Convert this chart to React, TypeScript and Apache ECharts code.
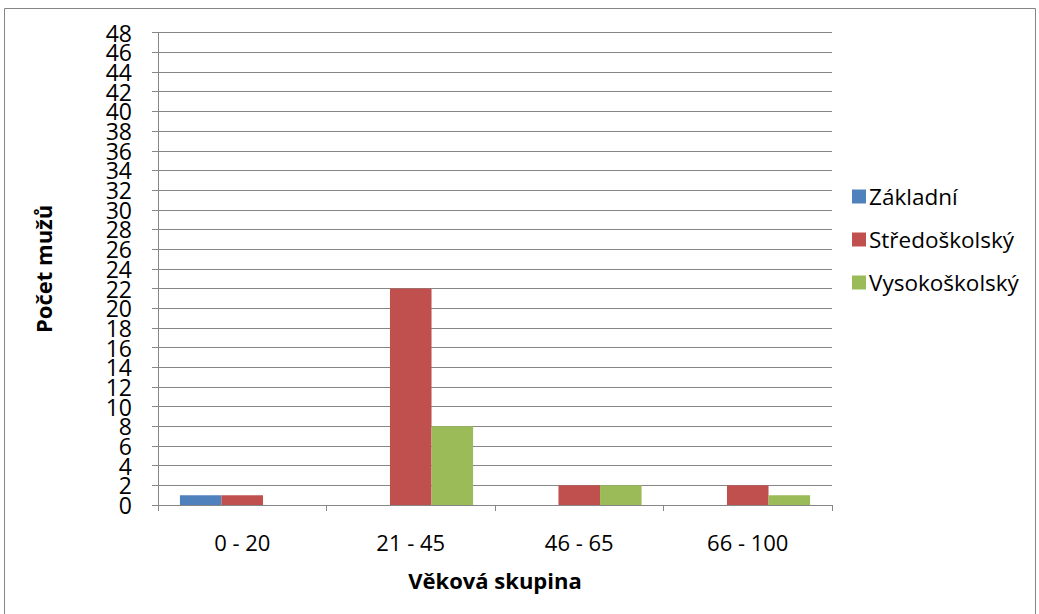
import React, { useEffect, useRef } from "react";
import * as echarts from "echarts";

const categories = ["0 - 20", "21 - 45", "46 - 65", "66 - 100"];
const zakladni = [1, 0, 0, 0];
const stredoskolsky = [1, 22, 2, 2];
const vysokoskolsky = [0, 8, 2, 1];
const seriesNames = ["Základní", "Středoškolský", "Vysokoškolský"];
const colors = ["#4F81BD", "#C0504D", "#9BBB59"];
const yTickLabels = [
  "0", "2", "4", "6", "8", "10", "12", "14", "16", "18", "20", "22", "24",
  "26", "28", "30", "32", "34", "36", "38", "40", "42", "44", "46", "48",
];

const FONT = "'Open Sans', 'Noto Sans', sans-serif";

export default function App() {
  const ref = useRef<HTMLDivElement>(null);
  useEffect(() => {
    if (!ref.current) return;
    const chart = echarts.init(ref.current, null, { renderer: "svg" });
    const dataSets = [zakladni, stredoskolsky, vysokoskolsky];
    chart.setOption({
      animation: false,
      backgroundColor: "#ffffff",
      textStyle: { fontFamily: FONT },
      graphic: [
        {
          type: "rect",
          shape: { x: 4.5, y: 8.5, width: 1031, height: 620 },
          style: { fill: "none", stroke: "#868686", lineWidth: 1 },
          silent: true,
        },
      ],
      grid: { left: 158, right: 207, top: 32.7, bottom: 109, containLabel: false },
      legend: {
        orient: "vertical",
        left: 847,
        top: 180,
        itemWidth: 14,
        itemHeight: 14,
        itemGap: 20,
        icon: "rect",
        textStyle: { fontSize: 22.5, color: "#000", fontFamily: FONT, padding: [0, 0, 0, -2] },
        data: seriesNames,
      },
      xAxis: {
        type: "category",
        data: categories,
        name: "Věková skupina",
        nameLocation: "middle",
        nameGap: 64,
        nameTextStyle: { fontSize: 22, fontWeight: "bold", color: "#000", fontFamily: FONT },
        axisLine: { lineStyle: { color: "#868686", width: 1 } },
        axisTick: { show: true, length: 6, lineStyle: { color: "#868686" }, alignWithLabel: false },
        axisLabel: { fontSize: 22, color: "#000", margin: 26, fontFamily: FONT },
      },
      yAxis: [
        {
          type: "value",
          min: 0,
          max: 48,
          interval: 2,
          name: "Počet mužů",
          nameLocation: "middle",
          nameGap: 104,
          nameRotate: 90,
          nameTextStyle: { fontSize: 22, fontWeight: "bold", color: "#000", fontFamily: FONT },
          axisLine: { show: true, lineStyle: { color: "#868686", width: 1 } },
          axisTick: { show: true, length: 6, lineStyle: { color: "#868686" } },
          axisLabel: { show: false },
          splitLine: { show: true, lineStyle: { color: "#868686", width: 1 } },
        },
        {
          type: "category",
          position: "left",
          data: yTickLabels,
          boundaryGap: false,
          axisLine: { show: false },
          axisTick: { show: false },
          splitLine: { show: false },
          axisLabel: {
            interval: 0,
            fontSize: 23,
            color: "#000",
            margin: 26,
            fontFamily: FONT,
            lineHeight: 20,
          },
        },
      ],
      series: seriesNames.map((name, i) => ({
        name,
        type: "bar",
        data: dataSets[i],
        yAxisIndex: 0,
        barGap: "0%",
        barCategoryGap: "26%",
        itemStyle: { color: colors[i] },
      })),
    });
    return () => chart.dispose();
  }, []);
  return (
    <div
      ref={ref}
      style={{ position: "fixed", left: 0, top: 0, width: 1039, height: 614 }}
    />
  );
}
